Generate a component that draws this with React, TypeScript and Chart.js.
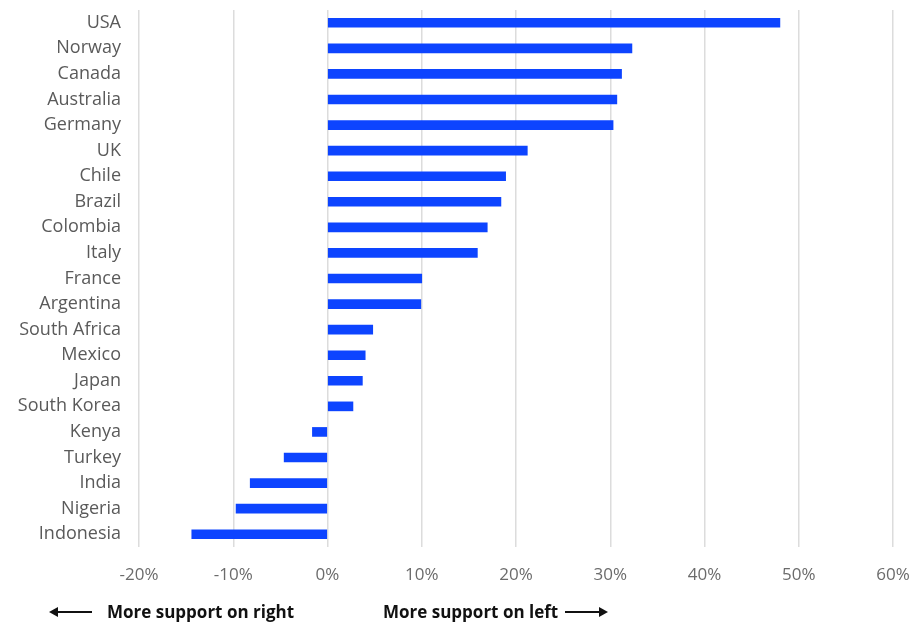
import React, { useEffect, useRef } from "react";
import { Chart, registerables } from "chart.js";

Chart.register(...registerables);

const countries = [
  "USA", "Norway", "Canada", "Australia", "Germany", "UK", "Chile", "Brazil",
  "Colombia", "Italy", "France", "Argentina", "South Africa", "Mexico", "Japan",
  "South Korea", "Kenya", "Turkey", "India", "Nigeria", "Indonesia",
];

const leftMinusRight = [
  48.0, 32.3, 31.2, 30.7, 30.3, 21.2, 18.9, 18.4, 16.95, 15.9, 10.0, 9.9, 4.8,
  4.0, 3.7, 2.7, -1.6, -4.6, -8.2, -9.7, -14.4,
];

const xMin = -20;
const xMax = 60;
const xStep = 10;

const leftNote = "More support on right";
const rightNote = "More support on left";

const FONT = "'Open Sans', 'Noto Sans', sans-serif";

export default function App() {
  const ref = useRef<HTMLCanvasElement | null>(null);

  useEffect(() => {
    document.body.style.margin = "0";
    const ctx = ref.current;
    if (!ctx) return;
    const chart = new Chart(ctx, {
      type: "bar",
      data: {
        labels: countries,
        datasets: [
          {
            data: leftMinusRight,
            backgroundColor: "#0D44FF",
            borderWidth: 0,
            barThickness: 9,
          },
        ],
      },
      options: {
        indexAxis: "y",
        animation: false,
        responsive: false,
        maintainAspectRatio: false,
        layout: { padding: { top: 10, right: 30, bottom: 36, left: 0 } },
        plugins: { legend: { display: false }, tooltip: { enabled: false } },
        scales: {
          x: {
            min: xMin,
            max: xMax,
            ticks: {
              stepSize: xStep,
              padding: 18,
              color: "#6b6b6b",
              font: { family: FONT, size: 17 },
              callback: (v: any) => `${v}%`,
            },
            grid: { color: "#dcdcdc", lineWidth: 1.5, drawTicks: false },
            border: { display: false },
            afterFit: (scale: any) => {
              scale.height = 40;
              scale.paddingLeft = 0;
              scale.paddingRight = 0;
            },
          },
          y: {
            ticks: {
              padding: 18,
              color: "#5a5a5a",
              font: { family: FONT, size: 18 },
              autoSkip: false,
            },
            grid: { display: false, drawTicks: false },
            border: { display: false },
            afterFit: (scale: any) => {
              scale.width = 139;
              scale.paddingTop = 0;
              scale.paddingBottom = 0;
            },
          },
        },
      },
    });
    return () => chart.destroy();
  }, []);

  const noteStyle: React.CSSProperties = {
    position: "absolute",
    top: 601,
    fontFamily: FONT,
    fontWeight: 700,
    fontSize: 17,
    color: "#111",
    whiteSpace: "nowrap",
    lineHeight: "22px",
  };
  const line = (left: number): React.CSSProperties => ({
    position: "absolute",
    left,
    top: 611,
    width: 36,
    height: 2,
    background: "#111",
  });

  return (
    <div style={{ position: "relative", width: 923, height: 623, background: "#fff" }}>
      <canvas ref={ref} width={923} height={623} style={{ display: "block" }} />
      <div style={line(56)} />
      <div
        style={{
          position: "absolute",
          left: 49,
          top: 607,
          width: 0,
          height: 0,
          borderTop: "5px solid transparent",
          borderBottom: "5px solid transparent",
          borderRight: "9px solid #111",
        }}
      />
      <div style={{ ...noteStyle, left: 107 }}>{leftNote}</div>
      <div style={{ ...noteStyle, left: 383 }}>{rightNote}</div>
      <div style={line(565)} />
      <div
        style={{
          position: "absolute",
          left: 599,
          top: 607,
          width: 0,
          height: 0,
          borderTop: "5px solid transparent",
          borderBottom: "5px solid transparent",
          borderLeft: "9px solid #111",
        }}
      />
    </div>
  );
}
